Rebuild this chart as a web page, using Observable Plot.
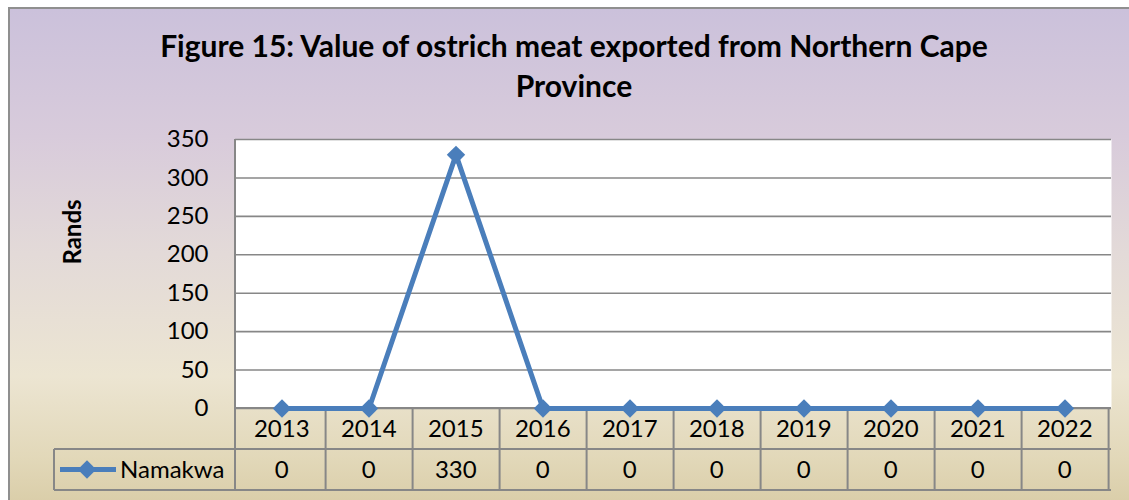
<!DOCTYPE html>
<html><head><meta charset="utf-8">
<script src="https://cdn.jsdelivr.net/npm/d3@7"></script>
<script src="https://cdn.jsdelivr.net/npm/@observablehq/plot@0.6"></script>
<style>
html,body{margin:0;padding:0;background:#fff;}
#wrap{position:relative;width:1129px;height:500px;overflow:hidden;background:#fff;}
#bg{position:absolute;left:8px;top:7px;width:1140px;height:510px;border-left:2px solid #8f8f8f;border-top:2px solid #8f8f8f;
 background:linear-gradient(180deg,#cbc1db 0%,#d8cbdb 25%,#e3dad8 48%,#ece5d2 72%,#e2d8b9 88%,#d7caa3 100%);}
#title{position:absolute;left:0;top:25px;width:1148px;text-align:center;font-family:Lato,sans-serif;font-weight:bold;font-size:30px;line-height:40px;color:#000;}
#chart{position:absolute;left:0;top:120px;}
</style></head>
<body>
<div id="wrap"><div id="bg"></div>
<div id="title">Figure 15: Value of ostrich meat exported from Northern Cape<br>Province</div>
<div id="chart"></div></div>
<script>
const years = ["2013","2014","2015","2016","2017","2018","2019","2020","2021","2022"];
const namakwa = [0,0,330,0,0,0,0,0,0,0];
const seriesName = "Namakwa";
const yTicks = [0,50,100,150,200,250,300,350];
const yLabel = "Rands";

const data = years.map((y,i)=>({year:y, value:namakwa[i]}));
const blue = "#4a7ebb", gridC = "#878787";

function tableMark(index, scales, values, dim) {
  const g = d3.create("svg:g").attr("text-anchor","middle");
  const x = scales.x, y0 = scales.y(0), y350 = scales.y(350);
  const bw = (dim.width - dim.marginLeft - dim.marginRight) / years.length;
  const L = dim.marginLeft, R = dim.width - dim.marginRight;
  const rh = 41;
  const hl = (xa,xb,yy)=>g.append("line").attr("x1",xa).attr("x2",xb).attr("y1",yy).attr("y2",yy).attr("stroke",gridC).attr("stroke-width",2);
  const vl = (xx,ya,yb)=>g.append("line").attr("x1",xx).attr("x2",xx).attr("y1",ya).attr("y2",yb).attr("stroke",gridC).attr("stroke-width",2);
  // left axis line
  vl(L, y350, y0);
  // table grid
  hl(L,R,y0); hl(54,R,y0+rh); hl(54,R,y0+2*rh);
  vl(54,y0+rh,y0+2*rh);
  vl(L,y0,y0+2*rh);
  years.forEach(yr=>{ vl(x(yr)+bw, y0, y0+2*rh); });
  years.forEach((yr,i)=>{
    g.append("text").attr("x",x(yr)+bw/2).attr("y",y0+rh/2).attr("dy","0.35em").text(yr);
    g.append("text").attr("x",x(yr)+bw/2).attr("y",y0+rh*1.5).attr("dy","0.35em").text(namakwa[i]);
  });
  // legend key
  const ly = y0 + rh*1.5;
  g.append("line").attr("x1",60).attr("x2",116).attr("y1",ly).attr("y2",ly).attr("stroke",blue).attr("stroke-width",5);
  g.append("path").attr("d",d3.symbol(d3.symbolDiamond2, Math.PI*8.3*8.3)()).attr("transform",`translate(87,${ly})`).attr("fill",blue);
  g.append("text").attr("x",120).attr("y",ly).attr("dy","0.35em").attr("text-anchor","start").text(seriesName);
  // y label
  g.append("text").attr("transform",`translate(81,${232-120}) rotate(-90)`).attr("font-weight","bold").attr("font-size",24).text(yLabel);
  return g.node();
}

const chart = Plot.plot({
  width: 1129, height: 380,
  marginLeft: 235, marginRight: 18, marginTop: 19, marginBottom: 92,
  style: {fontFamily: "Lato, sans-serif", fontSize: "24px", background: "transparent", color: "#000", overflow: "visible"},
  x: {type: "band", domain: years, padding: 0, axis: null},
  y: {domain: [0,350], ticks: yTicks, tickSize: 0, tickPadding: 27, label: null},
  marks: [
    Plot.frame({fill: "white", stroke: "none"}),
    Plot.ruleY(yTicks, {stroke: gridC, strokeWidth: 1.6, strokeOpacity: 1}),
    tableMark,
    Plot.line(data, {x: "year", y: "value", stroke: blue, strokeWidth: 5}),
    Plot.dot(data, {x: "year", y: "value", symbol: "diamond2", r: 8.3, fill: blue, stroke: "none"})
  ]
});
document.getElementById("chart").appendChild(chart);
</script>
</body></html>
